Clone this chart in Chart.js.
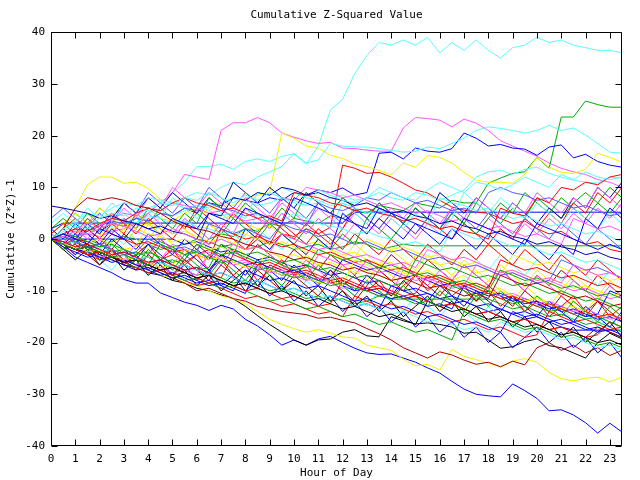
<!DOCTYPE html>
<html><head><meta charset="utf-8">
<script src="https://cdn.jsdelivr.net/npm/chart.js@4.4.1/dist/chart.umd.min.js"></script>
<style>html,body{margin:0;padding:0;background:#fff;}</style>
</head><body>
<canvas id="c" width="640" height="480"></canvas>
<script>
const hours = [0,0.5,1,1.5,2,2.5,3,3.5,4,4.5,5,5.5,6,6.5,7,7.5,8,8.5,9,9.5,10,10.5,11,11.5,12,12.5,13,13.5,14,14.5,15,15.5,16,16.5,17,17.5,18,18.5,19,19.5,20,20.5,21,21.5,22,22.5,23,23.5];
const xTickLabels = ["0","1","2","3","4","5","6","7","8","9","10","11","12","13","14","15","16","17","18","19","20","21","22","23"];
const yTickValues = [-40,-30,-20,-10,0,10,20,30,40];

const cyanTop = [0,1,0.5,2,1.5,2.5,3,4,5,6,9,11,14,14,14.5,13.5,15,15.5,15,16,16.5,14.5,18,25,27,32,35.5,38,37.5,38.5,37.5,39,36,38,36.5,38.5,36.5,35,37,37.5,39,38,38.5,37.5,37,36.5,36.5,36];
const magentaTop = [0,-0.5,0.5,1,0.5,1.5,2,3,5,7,9,12.5,12,11.5,21,22.5,22.5,23.5,22.5,20.5,19.7,19,18.5,18.7,17.6,17.5,17.2,17,17,21.5,23.5,23.3,23,21.7,23.2,22.4,21,19,18,17,16,14.7,13.7,13,12.5,11.5,11,10];
const yellowEarly = [0,2,6,10.5,12,12,10.8,11,9.8,7.7,7,6,5.5,5,4,4.5,3,2,2.5,1,0,-1,-0.5,-2,-3,-2.5,-4,-5,-4.5,-6,-7,-6,-7.5,-8,-7,-9,-10,-9.5,-11,-12,-11,-12.5,-13,-12,-14,-15,-14.5,-16];
const yellowJump = [0,1,0.5,2,1,2,3,2.5,3,4,3.5,5,6,5.5,7,6.5,8,8.5,9,20.5,19.5,18,17.6,16.2,15.6,14.5,14,13.3,12.4,14.7,13.9,16.2,15.8,14.7,12.9,11.4,11,11,10.8,12.5,15.8,13.9,12.9,12.7,13.5,16.6,15.8,14.9];
const greenLate = [0,-1,-0.5,-2,-1,-2.5,-2,-3,-1,-2,-1.5,-3,-2,0,1,0.5,2,1.5,3,2.5,4,3.5,3,4.5,4,5.5,5,6.5,6,5.5,7,6.5,6,7.5,7,7,10.8,11.8,12.7,13,15.8,13.7,23.6,23.6,26.7,26,25.5,25.5];
const redJump = [0,-1,-2,-1.5,-3,-2,-4,-3.5,-5,-4,-3,-4.5,-3,-2,-3.5,-1,-2,0,-1,1,0.5,2,1,2.3,14.3,13.7,12.7,12.9,12,10.8,9.5,8.9,7.5,6.2,5.6,5.2,5,4,3,3.5,2,1,1.5,0,-1,-0.5,-2,-2.5];
const blueJump = [0,1,0.5,2,1.5,3,2.5,4,3.5,5,4.5,6,5,7,6.5,8,7.5,7,8,7.5,9,8.5,9.5,9,9.9,8.5,9,16.6,16.8,15.5,17.6,17,16.8,17.5,20.5,19.5,18,18.3,17.6,17.4,16.2,17.8,18.2,15.7,16.4,15,14.3,13.9];
const blueLow = [0,-1.5,-3.5,-4.5,-5.5,-6.5,-7.8,-8.5,-8.5,-10.4,-11.3,-12.2,-12.8,-13.8,-12.8,-13.5,-15.5,-16.8,-18.5,-20.5,-19.5,-20.5,-19.3,-18.8,-20,-21.1,-22,-22.3,-22.2,-23,-23.8,-24.9,-25.9,-27.5,-29,-30,-30.3,-30.5,-28,-29.3,-30.8,-33.2,-33,-34,-35.5,-37.5,-35.6,-37.3];
const blackLow = [0,-1,-2,-2.5,-3.5,-4,-5,-5.5,-6.5,-7,-8,-8.5,-9.5,-10,-10.8,-11.5,-13,-14.8,-16.5,-18,-19.5,-20.5,-19.5,-19.3,-18,-17.5,-18.7,-18.9,-15,-15.8,-16.4,-16.2,-16.5,-17,-18.2,-18,-19.5,-21.1,-20.8,-19.8,-19.3,-20.6,-21,-22,-23,-20,-18.2,-19.3];
const yellowLow = [0,-1,-1.5,-2.5,-3,-4,-4.5,-5.5,-6,-7,-7.5,-8.5,-9,-10,-11,-11.5,-12.5,-14,-15.5,-16.5,-17.3,-18,-17.5,-18.2,-18.9,-19.1,-20.5,-21,-21.5,-23.2,-24.5,-24.2,-25.3,-21.3,-22.7,-23.3,-24,-24.6,-23.6,-23.1,-23.8,-25.8,-27,-27.4,-26.9,-26.7,-27.6,-26.7];
const darkRedLow = [0,-1,-0.5,-2,-2.5,-3.5,-4,-5,-5.5,-6.5,-7.5,-8.5,-10,-9.5,-10.5,-11.5,-12,-13,-13.5,-14,-14.3,-14.6,-15.3,-15.1,-15.7,-16.2,-17.3,-18.3,-19.5,-21,-22,-23,-21.8,-22.4,-23.4,-24.2,-23.8,-24.7,-23.6,-24.3,-21,-20,-21.5,-20.5,-22,-21,-22.5,-21.5];
const cyanUpper = [0,1,2,1.5,3,4,3.5,5,6,7,6.5,8,9,8.5,10,11,10.5,12,13,14,16.6,14.7,15.3,18.5,18,17.8,17.8,17.5,17.2,16.8,17,17.8,17.5,18.5,19.5,21,21.7,21.4,21,20.5,21,22,21,21.5,20.1,18.5,16.8,16.6];
const cyanMid = [0,0.5,1,2,1.5,2.5,3.5,3,4,5,4.5,5.5,6.5,6,7,8,7.5,6.5,7,8,7.5,6.5,7,8,8.5,7.5,8,9,8,7.5,9,8.5,7.5,8.5,9.5,12,13,13.3,12.5,13.5,13.9,12.7,12,11.4,11,10.8,12,11.8];
const blueFlatA = [2,3.1,3.1,3.1,3.1,3.1,3.1,3.1,3.1,3.1,3.1,3.1,3.1,3.1,3.1,3.1,3.1,3.1,3.1,3.1,3.1,3.1,3.1,3.1,3.1,5.2,5.2,5.2,5.2,5.2,5.2,5.2,5.2,5.2,5.2,5.2,5.2,5.2,5.2,5.2,5.2,5.2,5.2,5.2,5.2,5.2,5.2,5.2];
const blueFlatB = [0,0,0,0,0,0,0,0,0,0,0,-1,-0.5,-1.5,-2.5,-2,-3,-4,-3.5,-4.5,-5.5,-5,-6,-7,-6.5,-7.5,-8.5,-8,-9,-10,-9.5,-10.5,-11.5,-11,-12,-13,-12.5,-13.5,-14.5,-14,-15,-16,-15.5,-16.5,-17.5,-17,-18,-19];
const greenFlatA = [0,0.5,-0.5,0,-1,-0.5,0.5,0,-1,-0.5,-1.5,-1,0,-0.5,-1.5,-1,-2,-1.5,-0.5,-1,-2,-1.5,-1,-2,-1.5,-0.5,-1,-2,-1.5,-1,-1.3,-1.3,-1.3,-1.3,-1.3,-1.3,-1.3,-1.3,-1.3,-1.3,-1.3,-1.3,-1.3,-1.3,-1.3,-1.3,-1.3,-1.3];
const greenFlatB = [0,-1,-1.5,-2.5,-2,-3,-4,-3.5,-4.5,-5.5,-5,-6,-7,-6.5,-7.5,-8.5,-8,-9,-10,-9.5,-10.5,-11.5,-11,-12,-11.5,-12.5,-12,-11,-11.6,-11.6,-11.6,-11.6,-11.6,-11.6,-11.6,-11.6,-11.6,-12.5,-13.5,-13,-14,-15,-14.5,-15.5,-16.5,-16,-17,-18];
const blueFlatC = [0,-1,-0.5,-1.5,-2.5,-2,-3,-4,-3.5,-4.5,-5.5,-5,-6,-7,-6.5,-7.5,-8.5,-8,-9,-10,-9.5,-10.5,-11.5,-11,-12,-13,-12.5,-13.5,-9,-10,-11,-10.5,-11.5,-12.5,-12,-13,-14,-13.5,-14.5,-15.5,-15,-16,-17,-17.6,-17.6,-17.6,-17.6,-17.6];
const s01 = [0,-0.5,-1.5,-1,-2,-3,-2.5,-3.5,-4.5,-4,-5,-6,-5.5,-6.5,-7.5,-3,-4,-5,-4.5,-5.5,-6.5,-6,-7,-8,-7.5,-8.5,-9.5,-9,-10,-11,-10.5,-7,-8,-9,-8.5,-9.5,-10.5,-11.5,-11,-12,-13,-12.5,-13.5,-14.5,-14,-15,-14.5,-15.5];
const s02 = [0,-1,-2,-1.5,-2.5,-3.5,-3,-4,-5,-1,-2,-3,-2.5,-3.5,-4.5,-4,-5,-6,-5.5,-6.5,-7.5,-7,-8,-9,-8.5,-9.5,-10,-11,-10.5,-11.5,-12.5,-12,-13,-9,-10,-11,-10.5,-11.5,-12.5,-12,-13,-14,-13.5,-14.5,-15.5,-15,-16,-17];
const s03 = [0,1,0,-1,2,1,0,3,2,1,4,3,2,5,4,3,6,5,4,3,8,7,6,5,4,3,2,6,5,4,3,2,1,0,4,3,2,1,0,-1,3,2,1,0,-1,-2,-1,-2];
const s04 = [0,0.5,1.5,1,2,3,2.5,1.5,0.5,1,2,1,0,-1,0,-1,-2,-1.5,-2.5,1,0,-1,-2,-1.5,-2.5,-3.5,-3,-4,-5,-4.5,-5.5,-2,-3,-4,-3.5,-4.5,-5.5,-6.5,-6,-7,-8,-7.5,-8.5,-5,-6,-7,-6.5,-7.5];
const s05 = [0,2,3,2.5,4,5,4.5,6,5.5,7,6.5,8,7.5,9,8,7,8.5,7.5,9,8,7,6.5,9.5,8.5,7.5,7,8,10,9,8,7.5,9.5,11,10,9,11,10.5,9.5,10.5,12,11,10,12.5,11.5,13,12,11.5,12];
const s06 = [0,2,6,8,7.5,8,7.5,6.5,6,5,3.5,2.5,2,1.5,0.5,0,-1,-1.5,-2.5,-3,-4,-3.5,-4.5,-5,-6,-5.5,-6.5,-7,-8,-7.5,-8.5,-9.5,-9,-10,-11,-10.5,-11.5,-7,-8,-9,-8.5,-9.5,-10.5,-11.5,-11,-12,-13,-12.5];
const s07 = [0,-1,-1.5,-2.5,-2,-3,-4,-3.5,-4.5,-5.5,-5,-2,-3,-4,-3.5,-4.5,-5.5,-5,-6,-7,-6.5,-7.5,-8.5,-8,-9,-4,-5,-6,-5.5,-6.5,-7.5,-7,-8,-9,-8.5,-9.5,-10.5,-10,-11,-12,-11.5,-12.5,-13.5,-13,-14,-15,-14.5,-15.5];
const s08 = [0,-1,-2,-1.5,-2.5,-3.5,-4.5,-4,-5,-6,-5.5,-6.5,-7.5,-7,-8,-9,-8.5,-9.5,-10.5,-10,-11,-12,-11.5,-12.5,-13.5,-13,-14,-15,-14.5,-15.5,-16.5,-12,-13,-14,-13.5,-14.5,-15.5,-15,-16,-17,-16.5,-17.5,-18.5,-18,-19,-20,-19.5,-20.5];
const s09 = [6.4,6,5.5,5,4,4.5,3.5,3,2,2.5,1.5,1,0,5,4.5,8,7.5,9,8.5,10,9.5,8.5,9,8,7.5,6.5,7,6,5,5.5,4.5,4,3,3.5,2.5,2,1,1.5,0.5,0,-1,-0.5,-1.5,-2,-3,-2.5,-3.5,-4];
const s10 = [0,0.5,-0.5,-1.5,-1,-2,-3,-2.5,0,-1,-2,-1.5,-2.5,3,2,1,2,1,0,3,2,1.5,0.5,1,0,-1,-0.5,-1.5,-2.5,-2,-3,-4,-3.5,-4.5,-5.5,-5,-6,-7,-6.5,-7.5,-8.5,-8,-4,-5,-6,-5.5,-6.5,-7.5];
const s11 = [0,-1,-2,-3,-2.5,-3.5,-4.5,-4,-5,-6,-7,-6.5,-7.5,-8.5,-8,-9,-10,-9.5,-10.5,-11.5,-11,-12,-13,-12.5,-8,-9,-10,-9.5,-10.5,-11.5,-11,-12,-13,-12.5,-13.5,-14.5,-14,-15,-16,-15.5,-16.5,-17.5,-17,-18,-19,-18.5,-16,-17];
const s12 = [0,1,0.5,-0.5,-1.5,-1,-2,-3,-2.5,-3.5,-4.5,-4,-1,-2,-3,-2.5,-3.5,-4.5,-4,-5,-6,-5.5,-2,-3,-4,-3.5,-4.5,-5.5,-5,-6,-7,-6.5,-7.5,-8.5,-8,-9,-10,-6,-7,-8,-7.5,-8.5,-9.5,-9,-10,-11,-10.5,-11.5];
const s13 = [0,-1,-2,-2.5,-3.5,-4.5,-4,-5,-6,-7,-6.5,-7.5,-8.5,-8,-9,-10,-6,-7,-8,-7.5,-8.5,-9.5,-9,-10,-11,-12,-11.5,-12.5,-13.5,-13,-14,-15,-14.5,-15.5,-16.5,-16,-17,-18,-14,-15,-14.5,-15.5,-16.5,-16,-17,-18,-17.5,-18.5];
const s14 = [0,-1,-1.5,-2.5,-3.5,-3,-4,-5,-4.5,-5.5,-6.5,-6,-7,-3,-4,-5,-4.5,-5.5,-6.5,-6,-7,-8,-7.5,-8.5,-9.5,-9,-10,-11,-10.5,-6,-7,-8,-7.5,-8.5,-9.5,-9,-10,-11,-10.5,-11.5,-12.5,-12,-13,-14,-13.5,-14.5,-15.5,-15];
const s15 = [0,-1,-0.5,-1.5,-2.5,-2,-3,-4,-3.5,-4.5,-5.5,-5,-6,-7,-6.5,-7.5,-8.5,-8,-9,-10,-9.5,-10.5,-11.5,-11,-12,-13,-12.5,-13.5,-14.5,-14,-15,-16,-15.5,-16.5,-17.5,-17,-18,-16,-17,-18,-17.5,-18.5,-19.5,-19,-20,-21,-20.5,-21.5];
const s16 = [0,-1,-2,-3,-2.5,-3.5,-4.5,-4,-5,-6,-5.5,-6.5,-7.5,-7,-8,-9,-8.5,-9.5,-5,-6,-7,-6.5,-7.5,-8.5,-8,-9,-10,-9.5,-10.5,-11.5,-11,-12,-13,-12.5,-13.5,-14.5,-14,-15,-16,-15.5,-16.5,-17.5,-17,-18,-19,-17,-18,-19];
const s17 = [0,0.5,1.5,1,2,3,2.5,2,1,0.5,-0.5,0,-1,-2,-1.5,-2.5,1,0,-1,-0.5,-1.5,-2.5,-2,-3,-4,-3.5,0,-1,-2,-1.5,-2.5,-3.5,-3,-4,-5,-4.5,-5.5,-6.5,-6,-7,-8,-7.5,-8.5,-9.5,-9,-10,-11,-10.5];
const s18 = [0,1,2,1.5,3,4,3.5,5,6,5.5,7,8,7,6.5,5.5,6,5,4,4.5,3.5,9,8.5,8,7,6.5,5.5,6,5,4.5,3.5,4,3,2,2.5,1.5,1,0,6,5,4.5,8,7,10,9.5,11,10.5,12,12.5];
const s19 = [0,-0.5,-1.5,-1,-2,-3,-2.5,-3.5,-4.5,-4,-5,-6,-5.5,-6.5,-3,-4,-5,-4.5,-5.5,-6.5,-6,-7,-8,-7.5,-4,-5,-6,-5.5,-6.5,-7.5,-7,-8,-9,-8.5,-9.5,-10.5,-10,-11,-12,-11.5,-12.5,-13.5,-13,-14,-15,-14.5,-10,-11];
const s20 = [0,-1,-2,-3,-2.5,-3.5,-4.5,-5.5,-5,-6,-7,-8,-7.5,-8.5,-9.5,-9,-10,-11,-12,-11.5,-12.5,-13.5,-13,-14,-15,-14.5,-15.5,-16.5,-16,-17,-18,-17.5,-18.5,-19.5,-14,-15,-16,-15.5,-16.5,-17.5,-17,-18,-19,-18.5,-19.5,-20.5,-20,-21];
const s21 = [0,1,2,3,2.5,4,5,4.5,6,5.5,7,6.5,6,5,5.5,4.5,3.5,4,3,8,7.5,10,9.5,9,8,8.5,7.5,6.5,7,6,5,5.5,4.5,3.5,4,3,2,2.5,1.5,0.5,1,0,-1,4,3,2,2.5,1.5];
const s22 = [0,1.5,2.5,2,3,4,3.5,3,4.5,4,3,3.5,2.5,2,1,1.5,0.5,5,4,3.5,5,4,3,2.5,2,1,1.5,0.5,0,-1,-0.5,-1.5,-2.5,2,1,0,0.5,-0.5,-1.5,-1,-2,-3,-2.5,-3.5,-4.5,-4,-5,-6];
const s23 = [0,1,0.5,1.5,2.5,3.5,3,4,3.5,5,4.5,6,5.5,7,6,5.5,4.5,5,4,3,3.5,2.5,7,6,5.5,6.5,8,7.5,9,8,7,7.5,6.5,5.5,6,5,9,10,9,8.5,7.5,8,7,6,6.5,5.5,4.5,5];
const s24 = [0,-1,0,-0.5,-1.5,1,0,-1,-0.5,-1.5,-2.5,-2,-3,-4,2,1,0,0.5,-0.5,-1.5,-1,-2,-3,-2.5,-3.5,-4.5,-4,-5,-6,-5.5,-6.5,-7.5,-7,-8,-9,-8.5,-9.5,-4,-5,-6,-5.5,-6.5,-7.5,-7,-8,-9,-8.5,-9.5];
const s25 = [0,-1.5,-2.5,-3.5,-3,-4,-5,-6,-5.5,-6.5,-7.5,-7,-8,-9,-8.5,-9.5,-10.5,-5,-6,-7,-6.5,-7.5,-8.5,-8,-9,-10,-9.5,-10.5,-11.5,-11,-12,-13,-12.5,-13.5,-9,-10,-11,-10.5,-11.5,-12.5,-12,-13,-14,-13.5,-14.5,-15.5,-15,-16];
const s26 = [0,-0.5,-1.5,-1,-2,-3,-2.5,-3.5,-4.5,-4,-1,-2,-3,-2.5,-3.5,-4.5,-4,-5,-6,-5.5,-6.5,-7.5,-3,-4,-5,-4.5,-5.5,-6.5,-6,-7,-8,-7.5,-8.5,-9.5,-9,-5,-6,-7,-6.5,-7.5,-8.5,-8,-9,-10,-9.5,-10.5,-11.5,-11];
const s27 = [0,2,3.5,5,4.5,6,7,6.5,8,7.5,7,6,6.5,5.5,4.5,5,4,9,8.5,10,9,8,7.5,6.5,7,6,5,5.5,4.5,3.5,4,3,8,7,6.5,5.5,6,5,4,4.5,3.5,2.5,3,2,1,1.5,0.5,-0.5];
const s28 = [0,0.5,-0.5,-1.5,-1,-2,-3,-2.5,-3.5,-4.5,-4,-5,-6,-5.5,-1,-2,-3,-2.5,-3.5,-4.5,-4,-5,-6,-5.5,-6.5,-7.5,-7,-8,-9,-8.5,-4,-5,-6,-5.5,-6.5,-7.5,-7,-8,-9,-8.5,-9.5,-10.5,-10,-11,-12,-11.5,-12.5,-13.5];
const s29 = [0,1,0.5,-0.5,0,-1,-2,-1.5,3,2,1,1.5,0.5,-0.5,0,-1,-2,-1.5,-2.5,-3.5,-3,-4,-5,-4.5,-5.5,-6.5,-6,-7,-8,-7.5,-3,-4,-5,-4.5,-5.5,-6.5,-6,-7,-3,-4,-5,-4.5,-5.5,-6.5,-6,-7,-8,-7.5];
const s30 = [0,-1,-2,-3,-4,-3.5,-4.5,-5.5,-6.5,-6,-7,-8,-9,-8.5,-9.5,-10.5,-11.5,-11,-12,-13,-12.5,-13.5,-14.5,-14,-15,-11,-12,-13,-12.5,-13.5,-14.5,-14,-15,-16,-15.5,-16.5,-17.5,-17,-18,-19,-18.5,-14,-15,-16,-15.5,-16.5,-17.5,-17];
const s31 = [1,3,1,4,2,5,3,1,4,2,0,3,1,-1,2,0,-2,1,-1,3,1,-1,2,0,-2,1,-1,-3,0,-2,-4,-1,-3,-5,-2,-4,-1,-3,-5,-2,-4,-6,-3,-5,-7,-4,-6,-8];
const s32 = [2,0,3,1,-1,2,0,-2,1,-1,-3,0,-2,-4,-1,-3,2,0,-2,1,-1,-3,0,-2,5,3,1,4,2,0,3,1,-1,2,0,-2,1,-1,-3,0,-2,-4,-1,-3,4,2,6,4];
const s33 = [1,-1,2,0,3,1,4,2,5,3,1,4,2,0,3,1,6,4,2,5,3,1,4,2,0,3,1,4,6,4,7,5,3,6,4,8,6,4,7,5,9,7,5,8,6,10,8,6];
const s34 = [0,-2,0,-2,-4,-1,-3,-5,-2,-4,-6,-3,-5,-7,-4,-6,-8,-5,-7,-9,-6,-8,-5,-7,-9,-11,-8,-10,-12,-9,-11,-13,-10,-12,-14,-11,-13,-10,-12,-14,-11,-13,-15,-12,-14,-16,-13,-15];
const s35 = [3,5,3,6,4,7,5,3,6,4,8,6,4,7,5,3,6,4,2,5,3,1,4,2,7,5,3,6,4,2,5,3,1,4,9,7,5,8,6,4,7,5,3,6,4,2,5,3];
const s36 = [0,-2,-1,-3,-5,-2,-4,-6,-3,-5,-7,-4,-6,-8,-5,-7,-9,-6,-8,-10,-7,-9,-11,-8,-10,-12,-9,-6,-8,-10,-7,-9,-11,-8,-10,-12,-9,-11,-13,-10,-12,-14,-11,-13,-15,-12,-14,-16];
const s37 = [1,3,5,3,6,4,2,5,3,1,4,2,0,3,1,-1,2,0,-2,1,-1,-3,0,-2,-4,-1,-3,-5,-2,-4,-6,-3,-5,-7,-4,-6,-8,-5,-7,-9,-6,-8,-10,-7,-9,-11,-8,-10];
const s38 = [0,-1,1,-1,-3,0,-2,-4,-1,-3,-5,-2,-4,-6,-3,-5,-7,-4,-6,-8,-5,-7,-9,-6,-8,-10,-7,-9,-11,-8,-10,-12,-9,-11,-13,-10,-12,-14,-11,-13,-15,-12,-14,-16,-13,-15,-17,-14];
const s39 = [4,6,4,2,5,3,7,5,9,7,5,8,6,10,8,6,9,7,5,8,6,4,7,5,3,6,4,2,5,3,1,4,2,6,4,2,5,3,1,4,2,0,3,1,-1,2,0,-2];
const s40 = [0,-1,-3,-1,-4,-2,-5,-3,-1,-4,-2,-5,-3,-6,-4,-7,-5,-8,-6,-4,-7,-5,-8,-6,-9,-7,-10,-8,-11,-9,-7,-10,-8,-11,-9,-12,-10,-13,-11,-14,-12,-15,-13,-11,-14,-12,-15,-13];
const s41 = [2,4,2,5,3,1,4,2,6,4,2,5,3,8,6,4,7,5,3,6,4,9,7,5,8,6,4,7,5,3,6,4,2,5,3,1,4,7,5,9,7,5,8,6,4,7,5,8];
const s42 = [0,1,-1,-3,0,-2,-4,-1,-3,0,-2,-4,-6,-3,-5,-2,-4,-6,-3,-5,-7,-4,-6,-8,-5,-7,-4,-6,-8,-5,-7,-9,-6,-8,-5,-7,-9,-6,-8,-10,-7,-9,-11,-8,-10,-12,-9,-11];
const s43 = [1,0,2,0,-2,1,-1,2,0,3,1,4,2,0,3,1,-1,2,0,-2,1,-1,-3,0,-2,1,-1,-3,0,-2,-4,-1,-3,-5,-2,-4,-6,-3,-5,-7,-4,-6,-8,-5,-7,-9,-6,-8];
const s44 = [0,2,0,3,1,4,7,5,8,6,9,7,5,8,6,11,9,7,10,8,6,9,7,5,8,6,4,7,5,3,6,4,9,7,5,8,6,4,7,5,3,6,4,8,6,10,8,11];
const s45 = [0,-1,1,3,1,-1,2,0,-2,1,-1,-3,0,-2,-4,-1,-3,-5,-2,-4,-6,-3,-5,-7,-4,-6,-8,-5,-7,-9,-6,-8,-10,-7,-9,-11,-8,-10,-12,-9,-11,-13,-10,-12,-14,-11,-13,-15];
const s46 = [0,-2,-4,-2,-5,-3,-6,-4,-7,-5,-8,-6,-9,-7,-10,-8,-6,-9,-7,-10,-8,-11,-9,-12,-10,-13,-11,-14,-12,-15,-13,-11,-14,-12,-15,-13,-16,-14,-17,-15,-18,-16,-19,-17,-20,-18,-16,-19];
const s47 = [0,2,4,2,0,3,1,5,3,1,4,2,6,4,2,5,3,1,4,2,0,3,1,-1,2,6,4,2,5,3,1,4,2,0,3,1,-1,2,0,4,2,5,3,7,5,9,7,10];
const s48 = [0,-1,-3,-1,-4,-2,-5,-3,-6,-4,-7,-5,-8,-6,-9,-7,-10,-8,-11,-9,-12,-10,-13,-11,-14,-12,-15,-13,-16,-14,-17,-15,-18,-16,-19,-17,-20,-18,-21,-19,-17,-20,-18,-21,-19,-22,-20,-23];
const s49 = [1,3,5,3,6,4,7,5,3,6,4,2,5,3,1,4,2,0,3,1,-1,2,0,-2,1,-1,4,2,0,3,6,4,2,5,3,7,5,3,6,4,8,6,4,7,9,7,10,8];
const s50 = [0,2,0,3,5,3,6,4,8,6,10,8,6,9,7,5,8,6,4,7,5,3,6,4,2,5,3,1,4,2,0,3,1,5,3,1,4,2,0,3,1,4,2,5,3,6,4,7];
const s51 = [0,-1,-3,-2,-4,-6,-3,-5,-7,-4,-6,-8,-5,-7,-9,-6,-8,-10,-7,-9,-11,-8,-10,-12,-9,-11,-13,-10,-12,-14,-11,-13,-15,-12,-14,-16,-13,-15,-17,-14,-12,-15,-13,-16,-14,-17,-15,-18];
const s52 = [0,1,-1,2,0,-2,1,-1,-3,0,-2,-4,-1,-3,-5,-2,-4,-1,-3,-5,-2,-4,-6,-3,-5,-7,-4,-6,-3,-5,-7,-4,-6,-8,-5,-7,-9,-6,-8,-10,-7,-9,-6,-8,-10,-7,-9,-11];

const RED='#ff0000', DRED='#a80000', GREEN='#00a800', BLUE='#0000ff', DBLUE='#0000a8', LBLUE='#5a5aff', MAG='#ff55ff', CYAN='#55ffff', YEL='#f2f200', BLK='#000000';

const seriesList = [
  [s01,RED],[s02,GREEN],[s03,BLUE],[s04,MAG],[s05,CYAN],[s06,DRED],[s07,YEL],[s08,BLK],[s09,DBLUE],[s10,LBLUE],
  [s11,RED],[s12,GREEN],[s13,BLUE],[s14,MAG],[s15,CYAN],[s16,DRED],[s17,YEL],[s18,RED],[s19,BLUE],[s20,GREEN],
  [s21,MAG],[s22,CYAN],[s23,LBLUE],[s24,RED],[s25,BLUE],[s26,MAG],[s27,CYAN],[s28,GREEN],[s29,YEL],[s30,RED],
  [s31,RED],[s32,BLUE],[s33,MAG],[s34,GREEN],[s35,CYAN],[s36,DRED],[s37,YEL],[s38,BLUE],[s39,LBLUE],[s40,RED],
  [s41,GREEN],[s42,MAG],[s43,CYAN],[s44,DBLUE],[s45,YEL],[s46,BLK],[s47,RED],[s48,BLUE],[s49,GREEN],[s50,MAG],
  [s51,CYAN],[s52,DRED],
  [cyanMid,CYAN],[cyanUpper,CYAN],[darkRedLow,DRED],[yellowLow,YEL],[blackLow,BLK],[blueLow,BLUE],
  [yellowEarly,YEL],[yellowJump,YEL],[redJump,RED],[blueJump,BLUE],[greenLate,GREEN],[magentaTop,MAG],[cyanTop,CYAN],
  [greenFlatB,GREEN],[blueFlatC,BLUE],[blueFlatB,BLUE],[greenFlatA,GREEN],[blueFlatA,BLUE]
];

const datasets = seriesList.map(([vals,color]) => ({
  data: hours.map((h,i)=>({x:h,y:vals[i]})),
  borderColor: color, borderWidth: 1, pointRadius: 0, tension: 0, fill: false
}));

const FONT = {family:"'DejaVu Sans Mono', monospace", size: 11, weight:'normal'};

const frameTicks = {
  id:'frameTicks',
  afterDatasetsDraw(chart){
    const {ctx, chartArea:a, scales:{x,y}} = chart;
    ctx.save();
    ctx.strokeStyle='#000'; ctx.lineWidth=1;
    const L=Math.round(a.left)+0.5, R=Math.round(a.right)-0.5, T=Math.round(a.top)+0.5, B=Math.round(a.bottom)-0.5;
    ctx.beginPath();
    ctx.rect(L,T,R-L,B-T);
    x.ticks.forEach(t=>{const px=Math.round(x.getPixelForValue(t.value))+0.5; ctx.moveTo(px,B); ctx.lineTo(px,B-6); ctx.moveTo(px,T); ctx.lineTo(px,T+6);});
    yTickValues.forEach(v=>{const py=Math.round(y.getPixelForValue(v))+0.5; ctx.moveTo(L,py); ctx.lineTo(L+6,py); ctx.moveTo(R,py); ctx.lineTo(R-6,py);});
    ctx.stroke(); ctx.restore();
  }
};

new Chart(document.getElementById('c'), {
  type:'line',
  data:{datasets},
  plugins:[frameTicks],
  options:{
    responsive:false, animation:false, events:[],
    layout:{padding:{left:0,right:18,top:0,bottom:0}},
    plugins:{
      legend:{display:false}, tooltip:{enabled:false},
      title:{display:true, text:'Cumulative Z-Squared Value', color:'#000', font:FONT, padding:{top:9,bottom:10}, fullSize:false}
    },
    scales:{
      x:{type:'linear', min:0, max:23.5,
        afterFit(s){ s.height = 34; },
        grid:{display:false, drawTicks:false},
        border:{display:false},
        ticks:{stepSize:1, includeBounds:false, autoSkip:false, maxRotation:0, color:'#000', font:FONT, padding:7,
          callback:(v)=> Number.isInteger(v) ? xTickLabels[v] : ''},
        title:{display:true, text:'Hour of Day', color:'#000', font:FONT, padding:{top:0,bottom:0}}
      },
      y:{type:'linear', min:-40, max:40,
        afterFit(s){ s.width = 51; },
        afterBuildTicks(s){ s.ticks = yTickValues.map(v=>({value:v})); },
        grid:{display:false, drawTicks:false},
        border:{display:false},
        ticks:{color:'#000', font:FONT, padding:6},
        title:{display:true, text:'Cumulative (Z*Z)-1', color:'#000', font:FONT, padding:{top:5,bottom:0}}
      }
    }
  }
});
</script>
</body></html>
